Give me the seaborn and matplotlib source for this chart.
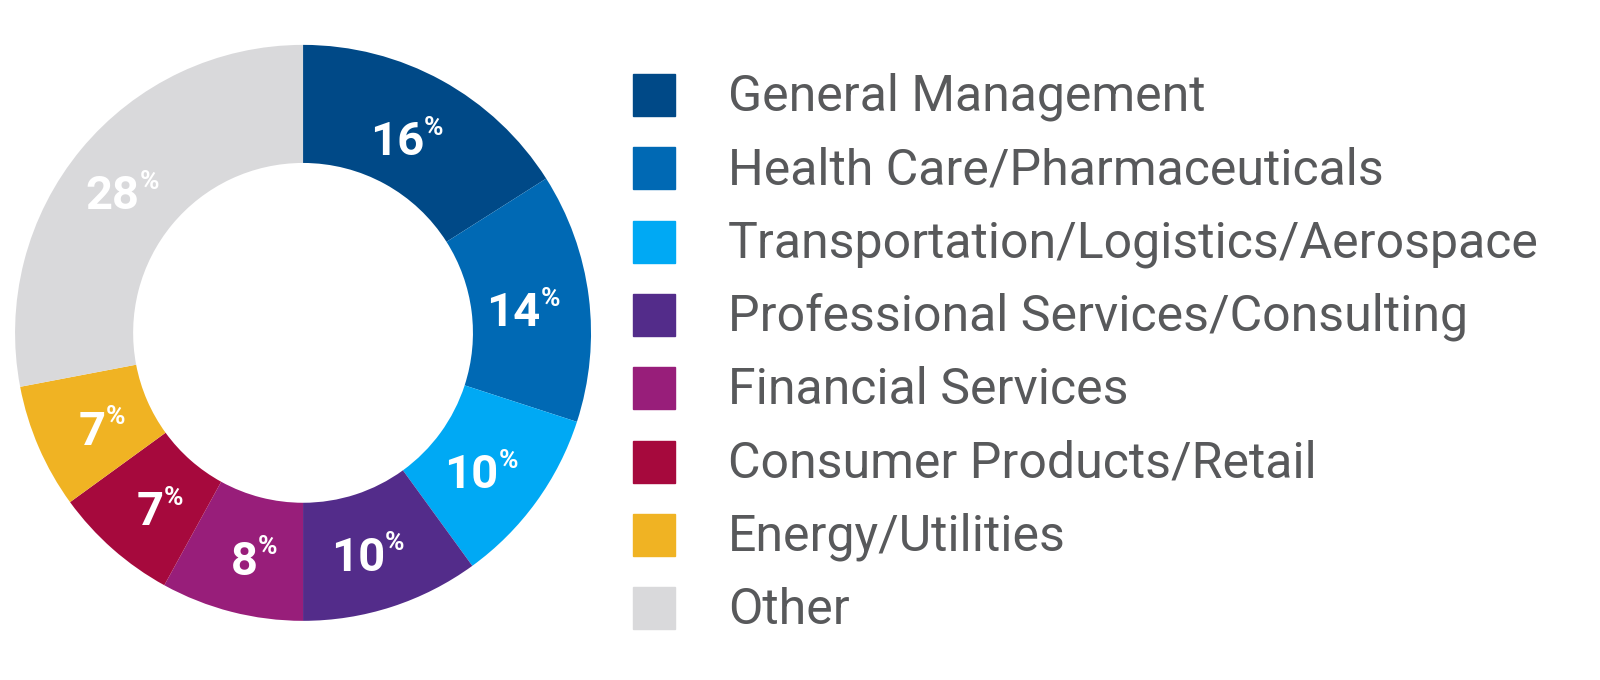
import numpy as np
import matplotlib.pyplot as plt
import seaborn as sns
from matplotlib.patches import Rectangle

sns.set_style("white")
plt.rcParams['font.family'] = ['Roboto', 'DejaVu Sans']

categories = ['General Management', 'Health Care/Pharmaceuticals',
              'Transportation/Logistics/Aerospace', 'Professional Services/Consulting',
              'Financial Services', 'Consumer Products/Retail', 'Energy/Utilities', 'Other']
shares = [16, 14, 10, 10, 8, 7, 7, 28]
colors = ['#004987', '#0069b4', '#00a9f4', '#532c8a', '#981e7a', '#a6093d', '#f0b323', '#d9d9db']

fig = plt.figure(figsize=(16, 6.8), dpi=100)
ax = fig.add_axes([0.0094, 0.087, 0.36, 0.847])
ax.pie(shares, colors=colors, startangle=90, counterclock=False,
       wedgeprops=dict(width=0.41, edgecolor='none'))
ax.set_xlim(-1, 1)
ax.set_ylim(-1, 1)
ax.set_aspect('equal')

# labels at the middle of each ring segment
cum = np.cumsum([0] + shares)
for i, v in enumerate(shares):
    mid = 90 - 3.6 * (cum[i] + v / 2)
    x, y = 0.79 * np.cos(np.radians(mid)), 0.79 * np.sin(np.radians(mid))
    ax.text(x + 0.04, y - 0.03, str(v), ha='right', va='center', color='white',
            fontsize=34, fontweight='bold', fontstretch='condensed')
    ax.text(x + 0.04, y + 0.02, '%', ha='left', va='center', color='white',
            fontsize=19, fontweight='bold')

for i, name in enumerate(categories):
    ytop = 74 + i * 73.3
    fig.patches.append(Rectangle((633 / 1600, 1 - (ytop + 42) / 680), 42 / 1600, 42 / 680,
                                 transform=fig.transFigure, color=colors[i]))
    fig.text(728 / 1600, 1 - (ytop + 23) / 680, name, ha='left', va='center',
             fontsize=36, color='#58595b')

fig.savefig('out.png', dpi=100)
